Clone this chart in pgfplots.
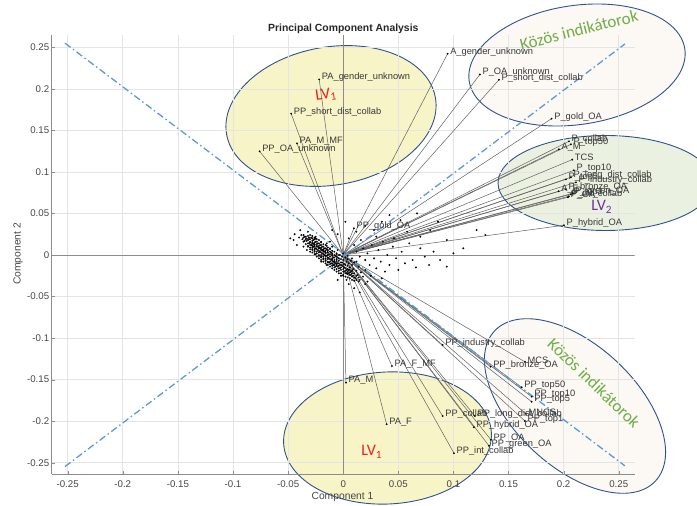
\documentclass[border=0pt]{standalone}
\usepackage{pgfplots}
\pgfplotsset{compat=1.18}
\usepackage{pgfplotstable}
\usepackage{fontspec}
\setmainfont{Liberation Sans}
\newfontfamily\calibri{Carlito}
\definecolor{lvyellow}{RGB}{247,244,199}
\definecolor{lvpink}{RGB}{252,248,244}
\definecolor{lvgreen}{RGB}{234,241,224}
\definecolor{lvborder}{RGB}{47,82,143}
\definecolor{kgreen}{RGB}{112,173,71}
\definecolor{lvred}{RGB}{240,30,30}
\definecolor{lvpurple}{RGB}{112,48,160}
\definecolor{dashblue}{RGB}{91,155,213}
\definecolor{gridgray}{RGB}{228,228,228}

\pgfplotstableread{
x y label
0.0947 0.2422 A\_gender\_unknown
0.1240 0.2173 P\_OA\_unknown
0.1413 0.2109 P\_short\_dist\_collab
0.1891 0.1641 P\_gold\_OA
-0.0218 0.2113 PA\_gender\_unknown
-0.0472 0.1701 PP\_short\_dist\_collab
-0.0420 0.1344 PA\_M\_MF
-0.0759 0.1248 PP\_OA\_unknown
0.0097 0.0322 PP\_gold\_OA
0.2048 0.1368 P\_collab
0.2066 0.1332 P\_top50
0.1957 0.1272 A\_M
0.2078 0.1148 TCS
0.2093 0.1019 P\_top10
0.2066 0.0935 P\_long\_dist\_collab
0.2021 0.0911 P\_top5
0.2112 0.0875 P\_industry\_collab
0.2021 0.0791 P\_bronze\_OA
0.1955 0.0767 A\_F
0.2066 0.0731 P\_top1
0.2048 0.0707 P\_int\_collab
0.2084 0.0743 P\_green\_OA
0.2039 0.0695 P\_OA
0.2003 0.0358 P\_hybrid\_OA
0.0902 -0.1084 PP\_industry\_collab
0.1649 -0.1286 MCS
0.1337 -0.1345 PP\_bronze\_OA
0.1619 -0.1593 PP\_top50
0.1710 -0.1705 PP\_top10
0.1710 -0.1766 PP\_top5
0.1658 -0.1913 MNCS
0.1649 -0.1998 PP\_top1
0.1195 -0.1937 PP\_long\_dist\_collab
0.0902 -0.1938 PP\_collab
0.1186 -0.2073 PP\_hybrid\_OA
0.1340 -0.2224 PP\_OA
0.1322 -0.2296 PP\_green\_OA
0.1005 -0.2386 PP\_int\_collab
0.0394 -0.2037 PA\_F
0.0025 -0.1537 PA\_M
0.0442 -0.1337 PA\_F\_MF
}\vectors

\pgfplotstableread{
x y
-0.040 0.021
-0.038 0.024
-0.037 0.019
-0.036 0.016
-0.035 0.022
-0.034 0.013
-0.033 0.020
-0.033 0.017
-0.032 0.011
-0.031 0.019
-0.031 0.014
-0.030 0.009
-0.030 0.016
-0.029 0.021
-0.029 0.012
-0.028 0.007
-0.028 0.015
-0.027 0.018
-0.027 0.010
-0.026 0.004
-0.026 0.013
-0.025 0.016
-0.025 0.008
-0.024 0.011
-0.024 0.002
-0.023 0.014
-0.023 0.006
-0.022 0.009
-0.022 0.000
-0.021 0.012
-0.021 0.004
-0.020 0.007
-0.020 -0.002
-0.019 0.010
-0.019 0.002
-0.018 0.005
-0.018 -0.004
-0.017 0.008
-0.017 0.000
-0.016 0.003
-0.016 -0.006
-0.015 0.011
-0.015 -0.001
-0.014 0.005
-0.014 -0.008
-0.013 0.001
-0.013 -0.004
-0.012 0.008
-0.012 -0.002
-0.011 -0.010
-0.011 0.003
-0.010 -0.005
-0.010 0.001
-0.009 -0.012
-0.009 -0.003
-0.008 0.004
-0.008 -0.008
-0.007 -0.001
-0.007 -0.014
-0.006 -0.006
-0.006 0.002
-0.005 -0.010
-0.005 -0.003
-0.004 -0.016
-0.004 -0.007
-0.003 0.000
-0.003 -0.012
-0.002 -0.005
-0.002 -0.018
-0.001 -0.009
-0.001 -0.002
0.000 -0.014
0.000 -0.006
0.001 -0.020
0.001 -0.011
0.002 -0.003
0.002 -0.016
0.003 -0.008
0.003 -0.022
0.004 -0.013
0.004 -0.005
0.005 -0.018
0.005 -0.010
0.006 -0.024
0.006 -0.015
0.007 -0.007
0.007 -0.020
0.008 -0.012
0.008 -0.026
0.009 -0.017
0.010 -0.022
0.010 -0.009
0.011 -0.028
0.012 -0.019
0.013 -0.024
0.014 -0.014
0.015 -0.030
0.016 -0.021
0.018 -0.026
0.020 -0.018
0.022 -0.032
-0.030 0.004
-0.025 0.001
-0.020 -0.008
-0.015 -0.012
-0.010 -0.016
-0.006 -0.020
-0.002 -0.025
0.003 -0.030
-0.033 0.006
-0.036 0.010
-0.020 0.016
-0.015 0.014
-0.010 0.010
-0.005 0.006
0.000 0.002
0.004 -0.001
0.008 -0.004
0.012 -0.008
-0.025 0.022
-0.012 0.016
0.012 0.004
0.015 -0.002
0.018 0.008
0.020 -0.006
0.022 0.002
0.024 -0.012
0.026 0.012
0.028 -0.004
0.030 -0.016
0.032 0.006
0.034 -0.008
0.036 0.016
0.038 -0.020
0.040 0.000
0.042 -0.012
0.045 0.010
0.048 -0.004
0.050 -0.018
0.053 0.004
0.056 -0.010
0.060 0.014
0.063 -0.006
0.066 -0.015
0.070 0.008
0.074 -0.002
0.078 -0.012
0.082 0.004
0.088 -0.006
0.094 -0.014
0.100 0.002
0.025 -0.025
0.035 -0.028
0.020 -0.035
0.030 0.022
0.016 0.018
0.010 0.012
0.005 0.020
0.012 0.028
0.020 0.035
0.028 0.030
0.042 0.048
0.052 0.042
0.067 0.050
0.079 0.030
0.094 0.018
0.109 0.008
0.121 0.030
0.129 0.024
0.058 0.028
0.035 0.040
-0.005 0.025
-0.010 0.030
0.002 0.040
0.070 0.022
0.086 0.040
0.046 0.020
-0.045 0.018
-0.042 0.012
-0.044 0.025
-0.039 0.030
-0.032 0.028
-0.048 0.020
0.005 -0.035
0.010 -0.040
-0.005 -0.030
0.015 -0.045
0.000 -0.025
-0.036 0.021
-0.036 0.024
-0.034 0.019
-0.034 0.022
-0.032 0.010
-0.032 0.014
-0.032 0.018
-0.032 0.023
-0.030 0.007
-0.030 0.012
-0.030 0.015
-0.030 0.019
-0.030 0.024
-0.028 0.003
-0.028 0.006
-0.028 0.009
-0.028 0.011
-0.028 0.014
-0.028 0.017
-0.028 0.020
-0.028 0.023
-0.026 0.001
-0.026 0.005
-0.026 0.007
-0.026 0.010
-0.026 0.012
-0.026 0.015
-0.026 0.019
-0.026 0.021
-0.024 -0.002
-0.024 0.004
-0.024 0.007
-0.024 0.010
-0.024 0.013
-0.024 0.016
-0.024 0.019
-0.022 -0.004
-0.022 -0.001
-0.022 0.003
-0.022 0.005
-0.022 0.008
-0.022 0.011
-0.022 0.014
-0.022 0.018
-0.020 -0.006
-0.020 -0.003
-0.020 0.000
-0.020 0.003
-0.020 0.006
-0.020 0.009
-0.020 0.012
-0.020 0.015
-0.018 -0.008
-0.018 -0.005
-0.018 -0.002
-0.018 0.001
-0.018 0.004
-0.018 0.007
-0.018 0.010
-0.018 0.013
-0.016 -0.010
-0.016 -0.007
-0.016 -0.004
-0.016 -0.001
-0.016 0.002
-0.016 0.005
-0.016 0.008
-0.016 0.012
-0.014 -0.012
-0.014 -0.009
-0.014 -0.005
-0.014 -0.003
-0.014 0.000
-0.014 0.003
-0.014 0.006
-0.014 0.009
-0.012 -0.014
-0.012 -0.011
-0.012 -0.008
-0.012 -0.005
-0.012 0.001
-0.012 0.004
-0.012 0.007
-0.010 -0.013
-0.010 -0.010
-0.010 -0.007
-0.010 -0.004
-0.010 -0.001
-0.010 0.002
-0.010 0.005
-0.008 -0.018
-0.008 -0.015
-0.008 -0.012
-0.008 -0.009
-0.008 -0.006
-0.008 -0.003
-0.008 0.000
-0.006 -0.017
-0.006 -0.013
-0.006 -0.011
-0.006 -0.008
-0.006 -0.005
-0.006 -0.002
-0.006 0.001
-0.004 -0.022
-0.004 -0.019
-0.004 -0.013
-0.004 -0.010
-0.004 -0.004
-0.004 0.000
-0.002 -0.022
-0.002 -0.015
-0.002 -0.012
-0.002 -0.009
0.000 -0.024
0.000 -0.020
0.000 -0.017
0.000 -0.011
0.002 -0.026
0.002 -0.022
0.002 -0.019
0.002 -0.012
0.004 -0.027
0.004 -0.023
0.004 -0.020
0.004 -0.017
0.006 -0.028
0.006 -0.021
0.006 -0.018
0.008 -0.030
0.008 -0.022
0.008 -0.019
0.010 -0.031
0.010 -0.027
0.012 -0.030
0.012 -0.025
0.014 -0.032
0.014 -0.027
-0.035 0.017
-0.031 0.021
-0.027 0.013
-0.025 0.020
-0.023 0.010
-0.021 0.008
-0.019 0.006
-0.017 0.004
-0.015 0.007
-0.013 -0.009
-0.011 -0.006
-0.009 -0.008
-0.007 -0.010
-0.005 -0.014
-0.003 -0.016
-0.001 -0.013
0.001 -0.015
0.003 -0.018
0.005 -0.022
0.007 -0.024
0.009 -0.025
}\scores

\begin{document}
\begin{tikzpicture}
\path[use as bounding box] (0pt,0pt) rectangle (697pt,506pt);
\clip (0pt,0pt) rectangle (697pt,506pt);
% highlighted regions
\draw[lvborder, line width=0.9pt, fill=lvyellow, rotate around={10:(331pt,390pt)}] (331pt,390pt) ellipse [x radius=106pt, y radius=69pt];
\draw[lvborder, line width=0.9pt, fill=lvpink, rotate around={8.5:(577pt,441pt)}] (577pt,441pt) ellipse [x radius=109pt, y radius=59.5pt];
\draw[lvborder, line width=0.9pt, fill=lvgreen] (605.6pt,323pt) ellipse [x radius=107.6pt, y radius=47.5pt];
\draw[lvborder, line width=0.9pt, fill=lvyellow, rotate around={3:(387.5pt,68pt)}] (387.5pt,68pt) ellipse [x radius=104pt, y radius=66pt];
\draw[lvborder, line width=0.9pt, fill=lvpink, rotate around={-43:(575pt,100pt)}] (575pt,100pt) ellipse [x radius=110pt, y radius=61pt];
\begin{axis}[
  at={(51.7pt,32pt)}, anchor=south west, scale only axis,
  width=583pt, height=439pt,
  xmin=-0.2645, xmax=0.2645, ymin=-0.2636, ymax=0.2648,
  axis x line*=bottom, axis y line*=left,
  axis line style={black!45, line width=0.6pt},
  xtick={-0.25,-0.2,-0.15,-0.1,-0.05,0,0.05,0.1,0.15,0.2,0.25},
  ytick={-0.25,-0.2,-0.15,-0.1,-0.05,0,0.05,0.1,0.15,0.2,0.25},
  xticklabels={-0.25,-0.2,-0.15,-0.1,-0.05,0,0.05,0.1,0.15,0.2,0.25},
  yticklabels={-0.25,-0.2,-0.15,-0.1,-0.05,0,0.05,0.1,0.15,0.2,0.25},
  grid=major, major grid style={gridgray, line width=0.6pt},
  tick align=inside, major tick length=3pt, tick style={black!45},
  ticklabel style={font=\fontsize{9.7}{11}\selectfont, text=black!72},
  xticklabel style={yshift=-3pt},
  yticklabel style={xshift=1pt},
]
\addplot[black!45, line width=0.7pt] coordinates {(0,-0.2636) (0,0.2648)};
\addplot[black!45, line width=0.7pt] coordinates {(-0.2645,0) (0.2645,0)};
\addplot[quiver={u=\thisrow{x},v=\thisrow{y}}, black!62, line width=0.5pt] table[x expr=0,y expr=0] {\vectors};
\addplot[only marks, mark=*, mark size=0.75pt, mark options={draw=none, fill=black!70}] table[x=x,y=y] {\scores};
\addplot[dashblue, line width=1.3pt, dash pattern=on 7pt off 3pt on 1.5pt off 3pt] coordinates {(-0.2525,0.255) (0.2556,-0.2538)};
\addplot[dashblue, line width=1.3pt, dash pattern=on 7pt off 3pt on 1.5pt off 3pt] coordinates {(-0.2525,-0.2547) (0.2556,0.254)};
\addplot[only marks, mark=*, mark size=0.7pt, mark options={draw=none, fill=black!85},
  nodes near coords, point meta=explicit symbolic,
  nodes near coords style={anchor=west, yshift=2pt, inner sep=2.5pt, font=\fontsize{9.3}{10}\selectfont, text=black!78}]
  table[x=x,y=y,meta=label] {\vectors};
\end{axis}
% annotations
\node[font=\bfseries\fontsize{10.4}{12}\selectfont, text=black!85] at (343.3pt,477pt) {Principal Component Analysis};
\node[font=\fontsize{10.3}{12}\selectfont, text=black!72] at (342.5pt,9.5pt) {Component 1};
\node[font=\fontsize{10.3}{12}\selectfont, text=black!72, rotate=90] at (18pt,252pt) {Component 2};
\node[font=\calibri\fontsize{17}{20}\selectfont, text=kgreen, rotate=14] at (579pt,476pt) {Közös indikátorok};
\node[font=\calibri\fontsize{17}{20}\selectfont, text=kgreen, rotate=-44] at (594pt,123pt) {Közös indikátorok};
\node[font=\calibri\fontsize{16}{18}\selectfont, text=lvred, rotate=8] at (326pt,411pt) {LV\textsubscript{1}};
\node[font=\calibri\fontsize{16}{18}\selectfont, text=lvpurple] at (601.7pt,299.3pt) {LV\textsubscript{2}};
\node[font=\calibri\fontsize{16}{18}\selectfont, text=lvred] at (371.7pt,54.3pt) {LV\textsubscript{1}};
\end{tikzpicture}
\end{document}
